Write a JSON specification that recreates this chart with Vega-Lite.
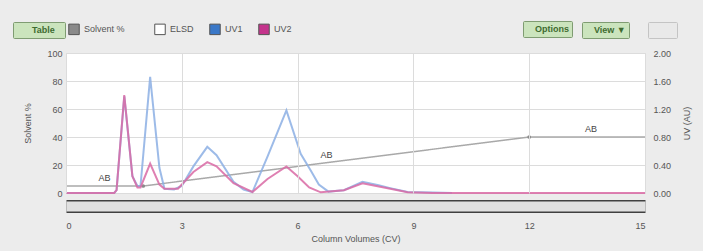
{
  "$schema": "https://vega.github.io/schema/vega-lite/v6.json",
  "width": 579,
  "height": 140,
  "autosize": {"type": "none"},
  "padding": {"left": 66, "top": 53, "right": 58, "bottom": 58},
  "background": "#ececec",
  "config": {
    "font": "Liberation Sans",
    "view": {"fill": "white", "stroke": "#d8d8d8"},
    "axis": {"labelFont": "Liberation Sans", "titleFont": "Liberation Sans", "labelFontSize": 9, "titleFontSize": 9, "labelColor": "#555555", "titleColor": "#555555", "titleFontWeight": "normal", "ticks": false, "domain": false, "gridColor": "#dcdcdc", "gridWidth": 1},
    "legend": {"labelFont": "Liberation Sans"}
  },
  "datasets": {
    "solvent": [
      {"cv": 0, "pct": 5},
      {"cv": 2, "pct": 5},
      {"cv": 12, "pct": 40},
      {"cv": 15, "pct": 40}
    ],
    "breaks": [
      {"cv": 2, "pct": 5},
      {"cv": 12, "pct": 40}
    ],
    "segments": [
      {"cv": 1, "pct": 5, "label": "AB"},
      {"cv": 6.75, "pct": 21.6, "label": "AB"},
      {"cv": 13.6, "pct": 40, "label": "AB"}
    ],
    "uv": [
      {"series": "UV1", "cv": 0, "au": 0},
      {"series": "UV1", "cv": 1.25, "au": 0},
      {"series": "UV1", "cv": 1.31, "au": 0.04},
      {"series": "UV1", "cv": 1.51, "au": 1.38},
      {"series": "UV1", "cv": 1.72, "au": 0.24},
      {"series": "UV1", "cv": 1.85, "au": 0.1},
      {"series": "UV1", "cv": 1.93, "au": 0.1},
      {"series": "UV1", "cv": 2.18, "au": 1.66},
      {"series": "UV1", "cv": 2.42, "au": 0.36},
      {"series": "UV1", "cv": 2.55, "au": 0.06},
      {"series": "UV1", "cv": 2.8, "au": 0.05},
      {"series": "UV1", "cv": 3.0, "au": 0.1},
      {"series": "UV1", "cv": 3.3, "au": 0.38},
      {"series": "UV1", "cv": 3.66, "au": 0.66},
      {"series": "UV1", "cv": 3.9, "au": 0.54},
      {"series": "UV1", "cv": 4.34, "au": 0.16},
      {"series": "UV1", "cv": 4.6, "au": 0.05},
      {"series": "UV1", "cv": 4.83, "au": 0.014},
      {"series": "UV1", "cv": 5.22, "au": 0.52},
      {"series": "UV1", "cv": 5.71, "au": 1.18},
      {"series": "UV1", "cv": 6.08, "au": 0.56},
      {"series": "UV1", "cv": 6.34, "au": 0.32},
      {"series": "UV1", "cv": 6.55, "au": 0.12},
      {"series": "UV1", "cv": 6.8, "au": 0.02},
      {"series": "UV1", "cv": 7.2, "au": 0.04},
      {"series": "UV1", "cv": 7.68, "au": 0.16},
      {"series": "UV1", "cv": 8.1, "au": 0.11},
      {"series": "UV1", "cv": 8.4, "au": 0.07},
      {"series": "UV1", "cv": 8.85, "au": 0.014},
      {"series": "UV1", "cv": 9.5, "au": 0.006},
      {"series": "UV1", "cv": 10.0, "au": 0},
      {"series": "UV2", "cv": 0, "au": 0},
      {"series": "UV2", "cv": 1.25, "au": 0},
      {"series": "UV2", "cv": 1.31, "au": 0.04},
      {"series": "UV2", "cv": 1.51, "au": 1.4},
      {"series": "UV2", "cv": 1.72, "au": 0.24},
      {"series": "UV2", "cv": 1.85, "au": 0.08},
      {"series": "UV2", "cv": 1.93, "au": 0.08},
      {"series": "UV2", "cv": 2.18, "au": 0.42},
      {"series": "UV2", "cv": 2.42, "au": 0.12},
      {"series": "UV2", "cv": 2.55, "au": 0.06},
      {"series": "UV2", "cv": 2.9, "au": 0.06},
      {"series": "UV2", "cv": 3.3, "au": 0.3},
      {"series": "UV2", "cv": 3.66, "au": 0.44},
      {"series": "UV2", "cv": 3.9, "au": 0.38},
      {"series": "UV2", "cv": 4.34, "au": 0.14},
      {"series": "UV2", "cv": 4.83, "au": 0.014},
      {"series": "UV2", "cv": 5.22, "au": 0.2},
      {"series": "UV2", "cv": 5.71, "au": 0.38},
      {"series": "UV2", "cv": 6.0, "au": 0.24},
      {"series": "UV2", "cv": 6.3, "au": 0.08},
      {"series": "UV2", "cv": 6.6, "au": 0.01},
      {"series": "UV2", "cv": 7.2, "au": 0.04},
      {"series": "UV2", "cv": 7.68, "au": 0.14},
      {"series": "UV2", "cv": 8.4, "au": 0.06},
      {"series": "UV2", "cv": 8.85, "au": 0.012},
      {"series": "UV2", "cv": 9.5, "au": 0},
      {"series": "UV2", "cv": 15, "au": 0}
    ]
  },
  "layer": [
    {
      "encoding": {
        "x": {"field": "cv", "type": "quantitative", "scale": {"domain": [0, 15], "nice": false},
          "axis": {"title": "Column Volumes (CV)", "orient": "bottom", "zindex": 1, "values": [0, 3, 6, 9, 12, 15], "grid": true, "offset": 13, "domain": true, "domainColor": "#e0e0e0", "domainWidth": 10, "labelPadding": 15, "titlePadding": 4}},
        "y": {"field": "pct", "type": "quantitative", "scale": {"domain": [0, 100], "nice": false},
          "axis": {"title": "Solvent %", "orient": "left", "values": [0, 20, 40, 60, 80, 100], "grid": true, "labelPadding": 4, "titlePadding": 14}}
      },
      "layer": [
        {
          "data": {"name": "solvent"},
          "mark": {"type": "line", "strokeWidth": 1.5},
          "encoding": {
            "stroke": {"datum": "Solvent %", "type": "nominal",
              "scale": {"domain": ["Solvent %", "UV1", "UV2"], "range": ["#a9a9a9", "#8cafe4", "#d96aa5"]},
              "legend": null},
            "strokeDash": {"datum": "Table", "type": "nominal", "scale": {"range": [[1, 0]]},
              "legend": {"title": null, "orient": "none", "legendX": -53, "legendY": -31, "padding": 3, "fillColor": "#cbe4bd", "strokeColor": "#7f9c72", "cornerRadius": 1,
                "symbolSize": 0, "symbolOpacity": 0, "symbolStrokeWidth": 0, "labelOffset": 0, "labelFontSize": 9, "labelFontWeight": "bold", "labelColor": "#3e6b30",
                "labelExpr": "'\u2800' + datum.label + '\u2800'"}}
          }
        },
        {
          "data": {"name": "breaks"},
          "mark": {"type": "point", "filled": true, "opacity": 1},
          "encoding": {
            "fill": {"datum": "Solvent %", "type": "nominal",
              "scale": {"domain": ["Solvent %", "ELSD", "UV1", "UV2"], "range": ["#8a8a8a", "#ffffff", "#3a78c8", "#c4348c"]},
              "legend": {"title": null, "orient": "none", "legendX": 2, "legendY": -30, "direction": "horizontal",
                "padding": 0, "columnPadding": 13, "labelFontSize": 9, "labelColor": "#555555", "labelOffset": 4,
                "labelExpr": "datum.label == 'Solvent %' ? datum.label + '\u2800\u2800' : datum.label",
                "symbolType": "square", "symbolSize": 110, "symbolStrokeColor": "#555555", "symbolStrokeWidth": 1, "symbolOpacity": 1}},
            "shape": {"datum": "Options", "type": "nominal", "scale": {"range": ["circle"]},
              "legend": {"title": null, "orient": "none", "legendX": 457, "legendY": -32, "padding": 3, "fillColor": "#cbe4bd", "strokeColor": "#7f9c72", "cornerRadius": 1,
                "symbolSize": 0, "symbolOpacity": 0, "symbolStrokeWidth": 0, "labelOffset": 0, "labelFontSize": 9, "labelFontWeight": "bold", "labelColor": "#3e6b30"}},
            "size": {"datum": "View \u25bc", "type": "ordinal", "scale": {"range": [14, 14]},
              "legend": {"title": null, "orient": "none", "legendX": 516, "legendY": -31, "padding": 3, "fillColor": "#cbe4bd", "strokeColor": "#7f9c72", "cornerRadius": 1,
                "symbolSize": 0, "symbolOpacity": 0, "symbolStrokeWidth": 0, "labelOffset": 0, "labelFontSize": 9, "labelFontWeight": "bold", "labelColor": "#3e6b30"}}
          }
        },
        {
          "data": {"name": "segments"},
          "mark": {"type": "text", "dy": -8, "fontSize": 9, "color": "#444444", "baseline": "middle"},
          "encoding": {
            "text": {"field": "label"},
            "opacity": {"datum": "blank", "type": "ordinal", "scale": {"range": [1, 1]},
              "legend": {"title": null, "orient": "none", "legendX": 582, "legendY": -31, "padding": 3, "fillColor": "#e9e9e9", "strokeColor": "#c4c4c4", "cornerRadius": 1,
                "symbolSize": 0, "symbolOpacity": 0, "symbolStrokeWidth": 0, "labelOffset": 0, "labelFontSize": 9,
                "labelExpr": "'\u2800\u2800'"}}
          }
        }
      ]
    },
    {
      "data": {"name": "uv"},
      "mark": {"type": "line", "strokeWidth": 2, "strokeOpacity": 0.85},
      "encoding": {
        "x": {"field": "cv", "type": "quantitative",
          "axis": {"orient": "bottom", "zindex": 0, "title": null, "labels": false, "grid": false, "offset": 13, "domain": true, "domainColor": "#404040", "domainWidth": 13}},
        "y": {"field": "au", "type": "quantitative", "scale": {"domain": [0, 2], "nice": false},
          "axis": {"title": "UV (AU)", "orient": "right", "values": [0, 0.4, 0.8, 1.2, 1.6, 2.0], "format": ".2f", "grid": false, "labelPadding": 8, "titlePadding": 12, "titleAngle": -90, "titleBaseline": "top"}},
        "stroke": {"field": "series", "type": "nominal", "legend": null},
        "detail": {"field": "series"}
      }
    }
  ],
  "resolve": {"scale": {"y": "independent"}, "axis": {"x": "independent"}}
}
